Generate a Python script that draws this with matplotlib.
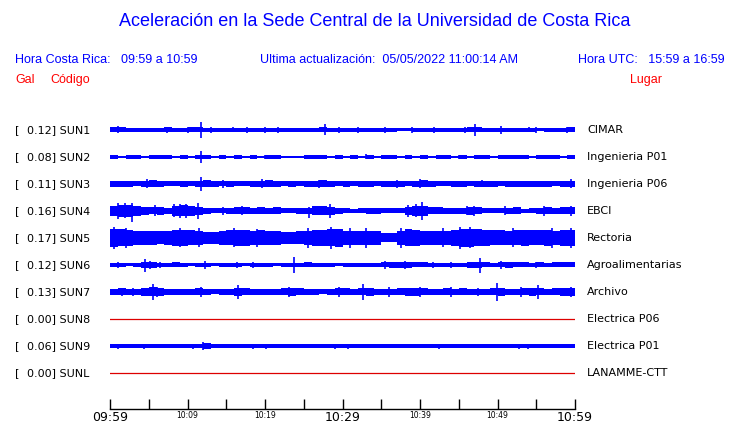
import numpy as np
import matplotlib
matplotlib.use("Agg")
import matplotlib.pyplot as plt
from matplotlib.transforms import blended_transform_factory

# station table
codes = ["SUN1", "SUN2", "SUN3", "SUN4", "SUN5", "SUN6", "SUN7", "SUN8", "SUN9", "SUNL"]
places = ["CIMAR", "Ingenieria P01", "Ingenieria P06", "EBCI", "Rectoria",
          "Agroalimentarias", "Archivo", "Electrica P06", "Electrica P01", "LANAMME-CTT"]
gal = [0.12, 0.08, 0.11, 0.16, 0.17, 0.12, 0.13, 0.00, 0.06, 0.00]

# envelope half-width per minute (screen px), 09:59 -> 10:59
env = {
    "SUN1": [2.5, 2.5, 2, 2, 2, 2, 2, 2.5, 2, 2, 2.5, 2.5, 2, 2, 2, 2, 2, 2, 2, 2,
             2, 2, 2, 2, 2, 2, 2, 2.5, 2, 2, 2, 2, 2, 2, 2, 2, 2, 1.5, 1.5, 2,
             2, 2, 2, 2, 2, 2, 2.5, 2.5, 2, 2, 2, 2, 2, 2, 2, 1.5, 2, 2, 2, 2.5],
    "SUN2": [1.8, 1.2, 1.8, 1.8, 1.2, 1.8, 1.8, 1.8, 1.2, 1.8, 1.2, 1.8, 2, 1.2, 1.8, 1.2, 1.8, 1.2, 1.8, 1.2,
             1.8, 1.8, 1.2, 0.8, 0.8, 1.8, 1.8, 1.8, 1.2, 1.8, 1.2, 1.8, 1.2, 1.8, 1.2, 1.8, 1.8, 1.2, 1.8, 1.2,
             1.8, 1.2, 1.8, 1.8, 1.2, 1.8, 1.2, 1.8, 1.8, 1.2, 1.8, 1.8, 1.8, 1.8, 1.2, 1.8, 1.8, 1.8, 1.2, 1.8],
    "SUN3": [3, 3, 3, 2.5, 3, 3.5, 3, 2.5, 2.5, 3, 2.5, 3, 3.5, 3, 2.5, 3, 2.5, 2.5, 3, 3,
             3.5, 3, 2.5, 3, 2.5, 3, 3, 3.5, 3, 2.5, 3, 2.5, 3, 3, 2.5, 3, 3, 3, 2.5, 3,
             3.5, 3, 2.5, 2.5, 3, 3, 2.5, 3, 3, 3, 2.5, 3, 3, 3, 3, 3, 3, 2.5, 3, 3],
    "SUN4": [5, 6, 6, 5, 4, 3.5, 4, 3, 5, 5.5, 5, 4, 3, 2.5, 2.5, 3, 3.5, 3.5, 3, 3.5,
             3, 3.5, 2.5, 2.5, 3, 3, 4.5, 4.5, 4, 3, 2.5, 2, 2.5, 3, 3, 2.5, 2.5, 2.5, 4, 5,
             5, 3.5, 3.5, 3, 3, 3, 4, 3.5, 2.5, 2.5, 2.5, 3, 3.5, 2, 2.5, 3, 3.5, 3, 3.5, 3.5],
    "SUN5": [9, 8.5, 8, 7, 7, 7, 6.5, 7, 8, 8, 7.5, 7, 6, 6, 7, 7.5, 8, 8, 7, 7.5,
             7, 7, 6, 6, 6.5, 7, 8, 8, 8.5, 9, 7, 7, 7, 7, 7, 4.5, 4.5, 7, 8.5, 8,
             7, 7, 7, 7, 8, 9, 9, 8.5, 8, 7.5, 7.5, 7, 7.5, 8, 7.5, 7.5, 8, 7, 8, 8],
    "SUN6": [2, 2, 1.5, 2, 3, 3, 2, 2, 2.5, 2, 1.5, 2, 2, 1.5, 2, 2, 2, 1.5, 2, 2,
             2, 1.5, 2, 2, 2, 2.5, 2, 2, 2, 1.5, 2, 2, 2, 2, 2, 2.5, 3, 3, 3, 2.5,
             2.5, 2, 2, 2, 2, 2, 3, 3, 2.5, 2, 2.5, 3, 2.5, 2.5, 2, 2.5, 2, 2.5, 2.5, 2.5],
    "SUN7": [3, 3.5, 3, 3, 4, 4.5, 4, 3, 3, 3, 3, 3.5, 3, 2.5, 3, 3, 4, 3.5, 3, 3,
             3, 3, 3.5, 4, 3.5, 3, 3, 2.5, 3, 3.5, 3.5, 3, 3.5, 4, 3, 3, 3, 3.5, 4, 4,
             3.5, 3, 3, 3.5, 3, 3.5, 3, 3, 3, 3.5, 4, 3, 3, 3.5, 4, 3.5, 3, 3.5, 4, 4],
    "SUN8": [],
    "SUN9": [2, 2, 2, 2, 2, 2, 2, 2, 2, 2, 2, 2, 2.5, 2, 2, 2, 2, 2, 2, 2,
             2, 2, 2, 2, 2, 2, 2, 2, 2, 2, 2, 2, 2, 2, 2, 2, 2, 2, 2, 2,
             2, 2, 2, 2, 2, 2, 2, 2, 2, 2, 2, 2, 2, 2, 2, 2, 2, 2, 2, 2],
    "SUNL": [],
}

# isolated bursts: (minute, px up, px down)
spikes = {
    "SUN1": [(1, 3.5, 3.5), (7.4, 3, 3), (10, 3, 3), (11.7, 8, 8), (13, 3, 3), (15.9, 2.5, 2.5),
             (17.7, 3, 3), (20, 3, 3), (21.7, 3, 3), (27.8, 5.5, 5.5), (29.5, 3, 3), (32, 3, 3),
             (35.5, 3, 3), (39, 3, 3), (41.8, 3, 3), (45.8, 3, 3), (47.1, 6, 6), (50.5, 4, 4),
             (54, 2.5, 2.5), (55, 3, 3), (59, 3, 3)],
    "SUN2": [(11.8, 6, 6), (3, 2, 2), (20, 2, 2), (33, 2.5, 2.5), (45, 2, 2), (52, 2, 2)],
    "SUN3": [(11.8, 7, 7), (4.8, 4.5, 4.5), (14.6, 4, 4), (19.6, 4.5, 4.5), (27, 4, 4),
             (37, 4, 4), (40, 4.5, 4.5), (48, 3.5, 3.5), (59.5, 4.5, 4.5)],
    "SUN4": [(1, 8, 8), (1.9, 7.5, 7.5), (2.9, 8, 11), (5.8, 5.5, 5.5), (8.2, 6.5, 6.5),
             (9, 7, 7), (9.8, 7, 7), (11.4, 8, 8), (14.6, 4, 4), (17, 4.5, 4.5), (25.7, 4, 7),
             (28.4, 7, 7), (38.5, 6, 6), (39.5, 6.5, 6.5), (40.2, 9, 9), (46, 4.5, 4.5),
             (47, 5, 5), (51, 4.5, 4.5), (56, 5, 5), (59.5, 5, 5)],
    "SUN5": [(0.5, 11, 11), (2, 10, 10), (9, 9.5, 9.5), (11.5, 9.5, 9.5), (16, 9.5, 9.5),
             (19, 9, 9), (25.5, 10, 10), (28.5, 11, 11), (31, 10, 10), (33, 10, 10),
             (37.5, 10, 10), (43, 9.5, 9.5), (45.2, 11, 11), (46.5, 10.5, 10.5), (52, 9.5, 9.5),
             (57, 10, 10), (59.5, 10, 10)],
    "SUN6": [(1, 3, 3), (4.5, 6, 7), (5.2, 3.5, 3.5), (6.5, 3, 3), (12.2, 3.5, 3.5),
             (16.4, 3, 3), (18.5, 3, 3), (23.7, 8, 8), (35.5, 3.5, 3.5), (38, 4, 4),
             (41.7, 3, 3), (44, 3, 3), (47.7, 7, 8), (50.5, 3.5, 3.5), (55, 3, 3)],
    "SUN7": [(1.5, 4, 4), (3, 4, 4), (5.5, 8, 8), (6, 5, 5), (11.8, 4.5, 4.5), (16.5, 7, 7),
             (23.1, 5, 5), (29.5, 5, 5), (32.6, 8, 8), (36, 4.5, 4.5), (40, 4.5, 4.5),
             (44, 4.5, 4.5), (47.5, 4, 4), (49.9, 9, 9), (53, 4.5, 4.5), (55.2, 7, 7),
             (59.5, 5, 5)],
    "SUN8": [],
    "SUN9": [(12, 4, 4), (20.1, 2.5, 2.5), (1, 2.5, 2.5), (4.4, 2.5, 2.5), (10.7, 2.5, 2.5),
             (18.4, 2.5, 2.5), (29, 2.5, 2.5), (30.7, 2.5, 2.5), (42.4, 2.5, 2.5),
             (52.8, 2.5, 2.5), (53.9, 2.5, 2.5)],
    "SUNL": [],
}

tick_min = [0, 5, 10, 15, 20, 25, 30, 35, 40, 45, 50, 55, 60]
tick_lab = ["09:59", "", "10:09", "", "10:19", "", "10:29", "", "10:39", "", "10:49", "", "10:59"]
big_labels = ["09:59", "10:29", "10:59"]

W, H = 740, 423
ROW = 27.0  # px between traces
BLUE = "#0000ff"
RED = "#ff0000"

fig = plt.figure(figsize=(W / 100, H / 100), dpi=100)
fig.patch.set_facecolor("white")

# trace area: x 110..575 px, rows from y=130 (row 0) to bottom axis at y=409
top_px, bot_px = 116, 409
ax = fig.add_axes([110 / W, 1 - bot_px / H, 465 / W, (bot_px - top_px) / H])
ax.set_xlim(0, 60)
ax.set_ylim((bot_px - 130) / ROW, -(130 - top_px) / ROW)

edges = np.arange(61)
for i, c in enumerate(codes):
    if len(env[c]) == 0:
        ax.plot([0, 60], [i, i], color="#dd0000", lw=0.9)
        continue
    a = np.array(env[c] + env[c][-1:], dtype=float) / ROW
    ax.fill_between(edges, i - a, i + a, step="post", color=BLUE, lw=0)
    for m, up, dn in spikes[c]:
        ax.vlines(m, i - up / ROW, i + dn / ROW, color=BLUE, lw=1.2)

for s in ["top", "left", "right"]:
    ax.spines[s].set_visible(False)
ax.spines["bottom"].set_linewidth(1.0)
ax.set_yticks([])
ax.set_xticks(tick_min)
ax.set_xticklabels(tick_lab)
ax.tick_params(axis="x", direction="in", length=7.5, width=1.0, pad=1.5)
for lab in ax.get_xticklabels():
    if lab.get_text() in big_labels:
        lab.set_fontsize(9)
    else:
        lab.set_fontsize(5.5)

# station labels
tr = blended_transform_factory(fig.transFigure, ax.transData)
for i, c in enumerate(codes):
    ax.text(15 / W, i, "[", transform=tr, fontsize=8, va="center", ha="left")
    ax.text(27 / W, i, f"{gal[i]:.2f}] {c}", transform=tr, fontsize=8, va="center", ha="left")
    ax.text(587 / W, i, places[i], transform=tr, fontsize=8, va="center", ha="left")

# header
hf = "Liberation Sans"
fig.text(375 / W, 1 - 22 / H, "Aceleración en la Sede Central de la Universidad de Costa Rica",
         ha="center", va="center", fontsize=13, color=BLUE, family=hf)
fig.text(15 / W, 1 - 60 / H, "Hora Costa Rica:   09:59 a 10:59",
         ha="left", va="center", fontsize=9, color=BLUE, family=hf)
fig.text(260 / W, 1 - 60 / H, "Ultima actualización:  05/05/2022 11:00:14 AM",
         ha="left", va="center", fontsize=9, color=BLUE, family=hf)
fig.text(725 / W, 1 - 60 / H, "Hora UTC:   15:59 a 16:59",
         ha="right", va="center", fontsize=9, color=BLUE, family=hf)
fig.text(15 / W, 1 - 80 / H, "Gal", ha="left", va="center", fontsize=9, color=RED, family=hf)
fig.text(50 / W, 1 - 80 / H, "Código", ha="left", va="center", fontsize=9, color=RED, family=hf)
fig.text(662 / W, 1 - 80 / H, "Lugar", ha="right", va="center", fontsize=9, color=RED, family=hf)

fig.savefig("out.png", dpi=100, facecolor="white")
